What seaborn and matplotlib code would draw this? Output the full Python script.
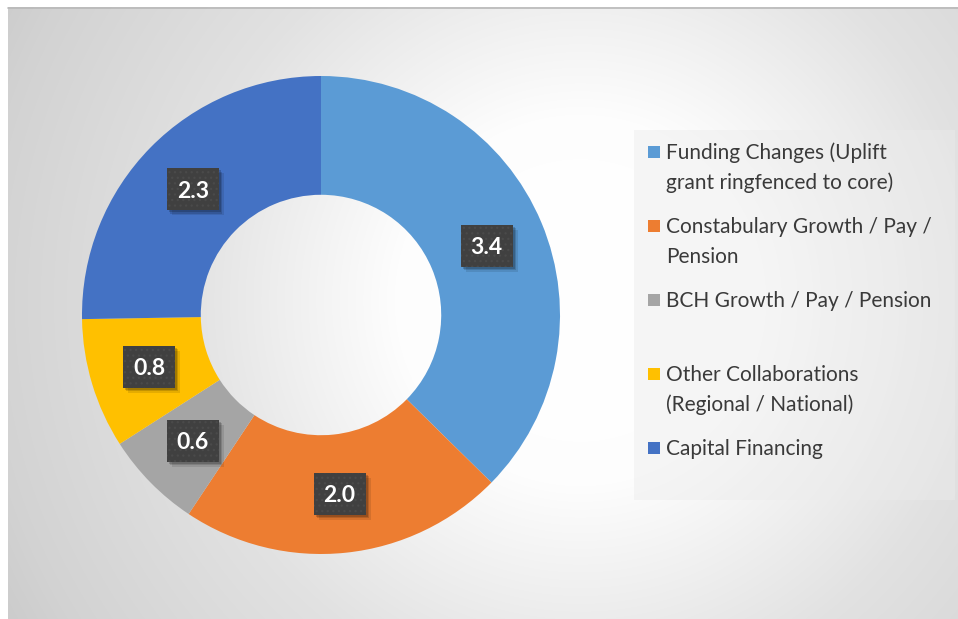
import numpy as np
import matplotlib
matplotlib.use("Agg")
import matplotlib.pyplot as plt
import seaborn as sns
from matplotlib.patches import Rectangle

categories = ["Funding Changes (Uplift\ngrant ringfenced to core)",
              "Constabulary Growth / Pay /\nPension",
              "BCH Growth / Pay / Pension",
              "Other Collaborations\n(Regional / National)",
              "Capital Financing"]
values = [3.4, 2.0, 0.6, 0.8, 2.3]
value_labels = ["3.4", "2.0", "0.6", "0.8", "2.3"]
colors = ["#5B9BD5", "#ED7D31", "#A5A5A5", "#FFC000", "#4472C4"]

sns.set_theme(style="white")
plt.rcParams['font.family'] = ['Lato', 'DejaVu Sans']
plt.rcParams['hatch.linewidth'] = 0.9

W, H = 958, 619
fig = plt.figure(figsize=(W / 100, H / 100), dpi=100)
fig.patch.set_facecolor("white")

# background radial gradient
bx0, by_top = 8, 7
bg = fig.add_axes([bx0 / W, 0, (W - bx0) / W, (H - by_top) / H])
ny, nx = H - by_top, W - bx0
yy, xx = np.mgrid[0:ny, 0:nx]
cx, cy = 580 - bx0, 300 - by_top
d = np.sqrt((xx - cx) ** 2 + (yy - cy) ** 2)
val = np.interp(d, [0, 180, 400, 600, 720], [1.0, 0.995, 0.885, 0.825, 0.77])
img = np.dstack([val, val, val])
bg.imshow(img, aspect="auto", extent=[0, 1, 0, 1], origin="upper")
bg.set_xlim(0, 1)
bg.set_ylim(0, 1)
bg.axis("off")
bg.plot([0, 1], [0.999, 0.999], color="#b8b8b8", lw=1.2, transform=bg.transAxes, clip_on=False)

# legend box
lg = Rectangle((634 / W, 1 - 500 / H), (955 - 634) / W, (500 - 130) / H,
               transform=fig.transFigure, facecolor="#ececec", alpha=0.45,
               edgecolor="none", zorder=1)
fig.patches.append(lg)

# donut
cxp, cyp, R = 321, 315, 239
ax = fig.add_axes([(cxp - R) / W, (H - cyp - R) / H, 2 * R / W, 2 * R / H])
ax.set_facecolor("none")
wedges, _ = ax.pie(values, colors=colors, startangle=90, counterclock=False,
                   radius=1.0, wedgeprops=dict(width=0.497, edgecolor="none"))
ax.set_xlim(-1, 1)
ax.set_ylim(-1, 1)
ax.axis("off")

px = 1.0 / R  # data units per pixel
bw, bh = 52 * px, 42 * px
total = sum(values)
ang = 90.0
for v, lab in zip(values, value_labels):
    span = v / total * 360
    mid = np.deg2rad(ang - span / 2)
    ang -= span
    r = 0.752
    x, y = r * np.cos(mid), r * np.sin(mid)
    for off, a in [(5, 0.10), (3.5, 0.14), (2, 0.18)]:
        ax.add_patch(Rectangle((x - bw / 2 + off * px, y - bh / 2 - off * px), bw, bh,
                               facecolor="black", alpha=a, edgecolor="none", zorder=3))
    ax.add_patch(Rectangle((x - bw / 2, y - bh / 2), bw, bh, facecolor="#404040",
                           edgecolor="#4a4a4a", lw=0, hatch="...", zorder=4))
    ax.text(x, y - 8.5 * px, lab, ha="center", va="baseline",
            color="white", fontsize=16.5, fontweight="bold", zorder=5)

# legend entries
entry_y = [152, 226, 300, 374, 448]
for cat, col, y in zip(categories, colors, entry_y):
    fig.patches.append(Rectangle((648 / W, 1 - (y + 6) / H), 12 / W, 12 / H,
                                 transform=fig.transFigure, facecolor=col,
                                 edgecolor="none", zorder=3))
    for i, line in enumerate(cat.split("\n")):
        fig.text(666 / W, 1 - (y + 7 + 30 * i) / H, line, ha="left", va="baseline",
                 fontsize=15, color="#3a3a3a", zorder=3)

fig.savefig("out.png", dpi=100)
